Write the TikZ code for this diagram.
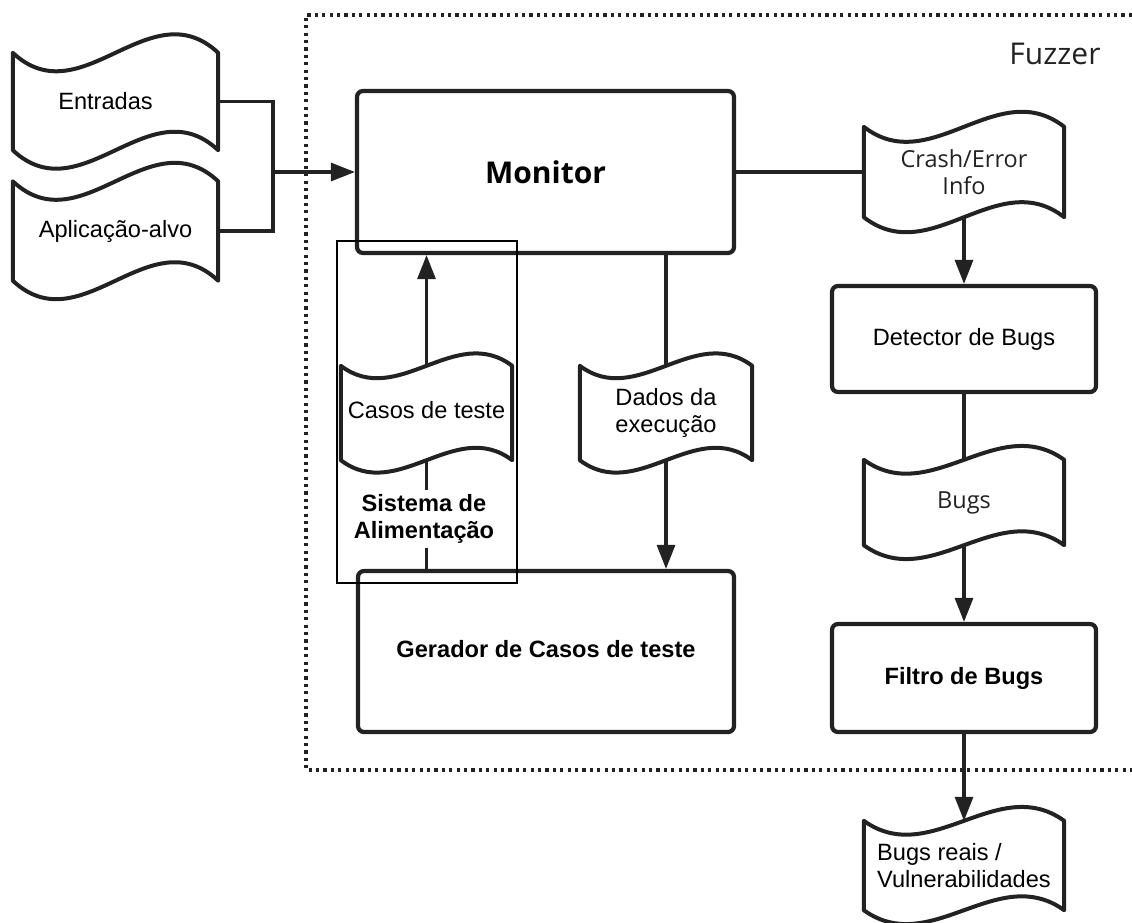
\documentclass[tikz,border=0pt]{standalone}
\usepackage{fontspec}
\setmainfont{Liberation Sans}
\newfontfamily\uifont{Open Sans}
\usetikzlibrary{arrows.meta,calc}

\definecolor{ink}{HTML}{222222}

% tape-like document outline around a (borderless) node: wavy top and bottom
\newcommand\tapeoutline[2]{%
  \draw[docline]
    (#1.north west)
      .. controls ($(#1.north west)!1/3!(#1.north east)+(0,#2)$)
             and ($(#1.north west)!2/3!(#1.north east)+(0,-#2)$) .. (#1.north east)
    -- (#1.south east)
      .. controls ($(#1.south west)!2/3!(#1.south east)+(0,-#2)$)
             and ($(#1.south west)!1/3!(#1.south east)+(0,#2)$) .. (#1.south west)
    -- cycle;}

\tikzset{
  x=1pt, y=-1pt,
  txt/.style={font=\fontsize{23.6}{27}\selectfont, align=center, text=black},
  uitxt/.style={font=\uifont\fontsize{23.5}{27}\selectfont, align=center, text=ink},
  procbox/.style={draw=ink, line width=4.2pt, rounded corners=6pt, inner sep=0pt},
  docnode/.style={inner sep=0pt},
  docline/.style={draw=ink, line width=4pt, line join=round},
  conn/.style={draw=ink, line width=3.2pt},
  flow/.style={conn, -{Triangle[length=24pt,width=18pt]}},
  feedframe/.style={draw=black, line width=1.4pt, inner sep=0pt},
  fuzzframe/.style={draw=ink, line width=3.2pt, dash pattern=on 3.2pt off 4.2pt},
}

\begin{document}
\begin{tikzpicture}
\useasboundingbox (0,0) rectangle (1132,922);

% outer fuzzer frame (open on the right side)
\draw[fuzzframe] (1132,15) -- (306,15) -- (306,770) -- (1132,770);
\node[font=\uifont\fontsize{30}{34}\selectfont, text=ink] (fuzz) at (1055,54) {Fuzzer};

% inputs
\node[docnode, txt, minimum width=205pt, minimum height=97pt] (ent) at (115.5,101.5) {Entradas\kern20pt};
\tapeoutline{ent}{64}
\node[docnode, txt, minimum width=205pt, minimum height=99pt] (app) at (115.5,231) {Aplicação-alvo};
\tapeoutline{app}{64}

% main blocks
\node[procbox, minimum width=377pt, minimum height=162pt,
      font=\uifont\bfseries\fontsize{30}{34}\selectfont, text=black] (mon) at (545.5,172) {Monitor};
\node[procbox, txt, font=\bfseries\fontsize{23.6}{27}\selectfont,
      minimum width=376pt, minimum height=161pt] (gen) at (546,651.5) {\raisebox{5pt}{Gerador de Casos de teste}};
\node[procbox, txt, minimum width=264pt, minimum height=106pt] (det) at (964,339) {Detector de Bugs};
\node[procbox, txt, font=\bfseries\fontsize{23.6}{27}\selectfont,
      minimum width=264pt, minimum height=108pt] (fil) at (964,678) {\raisebox{4pt}{Filtro de Bugs}};

% feeding subsystem frame and its caption
\node[feedframe, minimum width=180pt, minimum height=342pt] (feed) at (427,412) {};
\node[txt, font=\bfseries\fontsize{23.6}{27}\selectfont, inner xsep=2pt, inner ysep=4pt] (feedlbl) at (424,519) {Sistema de\\Alimentação};

% data documents
\node[docnode, txt, minimum width=171pt, minimum height=94pt] (casos) at (426.5,413) {\raisebox{6pt}{Casos de teste}};
\tapeoutline{casos}{43}
\node[docnode, txt, minimum width=172pt, minimum height=94pt] (dados) at (666,413) {Dados da\\execução};
\tapeoutline{dados}{43}
\node[docnode, uitxt, minimum width=200pt, minimum height=90pt] (crash) at (964,172) {Crash/Error\\Info};
\tapeoutline{crash}{52}
\node[docnode, uitxt, minimum width=200pt, minimum height=85pt] (bugs) at (964,502.5) {Bugs};
\tapeoutline{bugs}{48}
\node[docnode, txt, align=left, minimum width=200pt, minimum height=89pt] (real) at (964,865.5) {Bugs reais /\\Vulnerabilidades};
\tapeoutline{real}{48}

% connectors
\coordinate (jn) at (273,172);
\draw[conn] (ent.east) -| (jn) |- (app.east);
\draw[flow] (jn) -- (mon.west);

\draw[flow] (casos.north) -- (casos.north |- mon.south);
\draw[conn] (casos.south) -- (casos.south |- feedlbl.north);
\draw[conn] (casos.south |- feedlbl.south) -- (casos.south |- gen.north);

\draw[conn] (dados.north |- mon.south) -- (dados.north);
\draw[flow] (dados.south) -- (dados.south |- gen.north);

\draw[conn] (mon.east) -- (crash.west);
\draw[flow] (crash.south) -- (det.north);
\draw[conn] (det.south) -- (bugs.north);
\draw[flow] (bugs.south) -- (fil.north);
\draw[flow] (fil.south) -- (real.north);
\end{tikzpicture}
\end{document}
